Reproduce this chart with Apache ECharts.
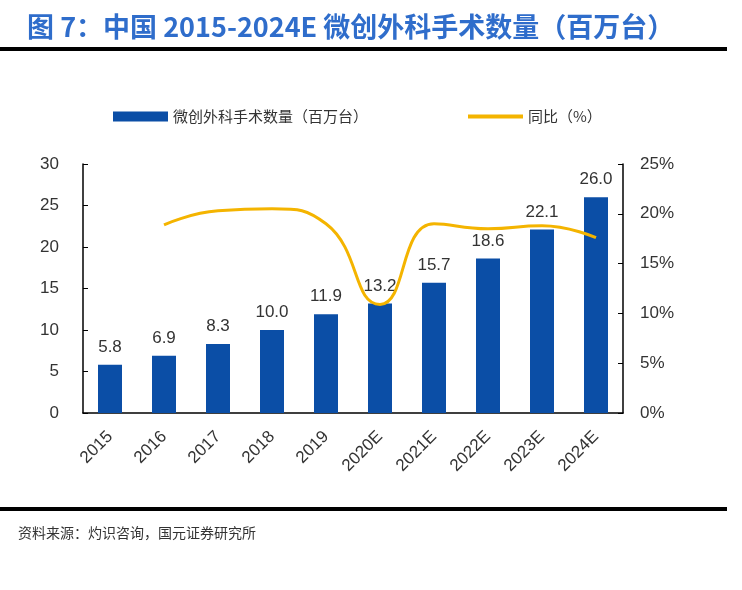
<!DOCTYPE html>
<html lang="zh">
<head>
  <meta charset="UTF-8">
  <title>中国微创外科手术数量</title>
  <style>
    html, body { margin: 0; padding: 0; background: #fff; }
    #main { width: 742px; height: 590px; }
  </style>
</head>
<body>
  <div id="main"></div>
  <script src="https://cdn.jsdelivr.net/npm/echarts@6/dist/echarts.min.js"></script>
  <script>
    // 数据
    var years = ['2015', '2016', '2017', '2018', '2019', '2020E', '2021E', '2022E', '2023E', '2024E'];
    var surgeries = [5.8, 6.9, 8.3, 10.0, 11.9, 13.2, 15.7, 18.6, 22.1, 26.0];
    var yoy = [null, 18.9, 20.3, 20.5, 19.0, 10.9, 19.0, 18.5, 18.8, 17.6];
    var leftTicks = [0, 30, 5];
    var rightTicks = [0, 25, 5];

    var myChart = echarts.init(document.getElementById('main'));
    var numFont = 'Liberation Sans, Arial, sans-serif';
    var cjkFont = 'Noto Sans CJK SC, sans-serif';

    option = {
      backgroundColor: '#fff',
      animation: false,
      title: {
        text: '图 7：中国 2015-2024E 微创外科手术数量（百万台）',
        left: 22,
        top: 8,
        textStyle: { color: '#2F6DCB', fontSize: 27, fontWeight: 'bold', fontFamily: cjkFont }
      },
      legend: {
        top: 104,
        left: 108,
        itemGap: 98,
        itemWidth: 55,
        itemHeight: 10,
        textStyle: { color: '#333', fontSize: 15, fontFamily: cjkFont },
        data: [
          { name: '微创外科手术数量（百万台）', icon: 'rect' },
          { name: '同比（%）', itemStyle: { opacity: 0 }, lineStyle: { width: 4 } }
        ]
      },
      grid: { left: 83, right: 119, top: 164, bottom: 177 },
      xAxis: {
        type: 'category',
        data: years,
        axisLine: { lineStyle: { color: '#000', width: 1.5 } },
        axisTick: { inside: true, length: 5, interval: 0, lineStyle: { color: '#000' } },
        axisLabel: { rotate: 45, interval: 0, fontSize: 17, color: '#333', margin: 21, fontFamily: numFont }
      },
      yAxis: [{
        type: 'value',
        min: leftTicks[0], max: leftTicks[1], interval: leftTicks[2],
        axisLine: { show: true, lineStyle: { color: '#000', width: 1.5 } },
        axisTick: { show: true, inside: true, length: 5, lineStyle: { color: '#000' } },
        splitLine: { show: false },
        axisLabel: { fontSize: 17, color: '#333', margin: 24, fontFamily: numFont }
      }, {
        type: 'value',
        min: rightTicks[0], max: rightTicks[1], interval: rightTicks[2],
        axisLine: { show: true, lineStyle: { color: '#000', width: 1.5 } },
        axisTick: { show: true, inside: true, length: 5, lineStyle: { color: '#000' } },
        splitLine: { show: false },
        axisLabel: { fontSize: 17, color: '#333', margin: 17, formatter: '{value}%', fontFamily: numFont }
      }],
      series: [{
        name: '微创外科手术数量（百万台）',
        type: 'bar',
        data: surgeries,
        barWidth: 24,
        itemStyle: { color: '#0B4EA6' },
        label: {
          show: true,
          position: 'top',
          distance: 9,
          fontSize: 17,
          color: '#333',
          fontFamily: numFont,
          formatter: function (p) { return p.value.toFixed(1); }
        }
      }, {
        name: '同比（%）',
        type: 'line',
        yAxisIndex: 1,
        data: yoy,
        smooth: true,
        symbol: 'none',
        lineStyle: { color: '#F4B400', width: 3 },
        itemStyle: { color: '#F4B400' }
      }],
      graphic: [
        { type: 'rect', shape: { x: 0, y: 47, width: 727, height: 4 }, style: { fill: '#000' } },
        { type: 'rect', shape: { x: 0, y: 507, width: 727, height: 4 }, style: { fill: '#000' } },
        {
          type: 'text', left: 18, top: 526,
          style: { text: '资料来源：灼识咨询，国元证券研究所', fill: '#333', fontSize: 14, fontFamily: cjkFont }
        }
      ]
    };
    myChart.setOption(option);
  </script>
</body>
</html>
